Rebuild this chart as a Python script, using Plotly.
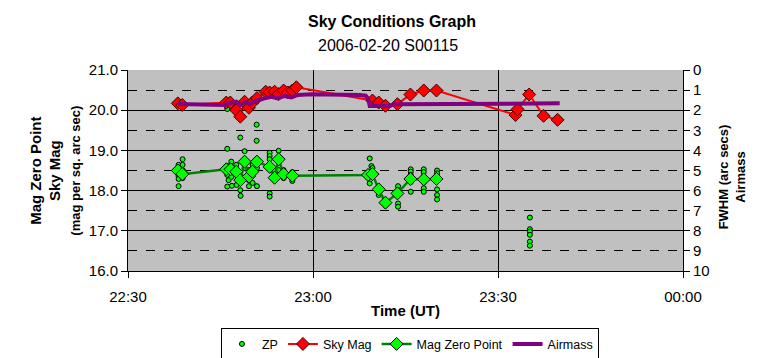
import pandas as pd
import plotly.graph_objects as go

BASE = pd.Timestamp("2006-02-20 22:30:00")

# ---- Sky Mag (mag per sq. arc sec) ; times in minutes after 22:30 UT
sky_t = [8.08, 8.80, 15.94, 16.59, 17.56, 18.21, 18.91, 19.61, 20.16, 20.91, 22.32, 22.97,
         23.78, 24.43, 25.24, 25.94, 26.65, 27.30, 39.64, 40.66, 41.75, 43.69, 45.80, 47.96,
         50.02, 62.85, 63.17, 65.05, 67.39, 69.66]
sky_v = [20.17, 20.13, 20.19, 20.19, 20.00, 19.84, 20.21, 20.06, 20.19, 20.30, 20.46, 20.44,
         20.46, 20.40, 20.49, 20.44, 20.49, 20.57, 20.24, 20.19, 20.11, 20.15, 20.39, 20.49,
         20.49, 19.88, 20.02, 20.39, 19.86, 19.76]

# ---- Mag Zero Point (averaged)
mzp_t = [8.08, 8.80, 15.94, 16.64, 17.56, 18.21, 18.91, 19.61, 20.16, 20.91, 22.97, 23.78,
         24.43, 25.24, 26.65, 38.92, 39.64, 40.66, 41.75, 43.69, 45.80, 47.96, 50.02]
mzp_v = [18.50, 18.41, 18.53, 18.53, 18.47, 18.26, 18.72, 18.35, 18.47, 18.72, 18.59, 18.32,
         18.78, 18.41, 18.37, 18.39, 18.41, 18.03, 17.70, 17.93, 18.29, 18.28, 18.29]

# ---- Airmass (right axis)
am_t = [8.08, 12.42, 15.66, 16.75, 17.56, 18.26, 18.91, 19.72, 20.81, 22.16, 23.24, 24.31,
        25.40, 26.49, 27.56, 29.74, 32.71, 37.58, 38.55, 38.92, 39.20, 42.45, 42.98, 53.27, 70.0]
am_v = [1.69, 1.71, 1.74, 1.63, 1.58, 1.74, 1.58, 1.69, 1.53, 1.41, 1.33, 1.41,
        1.29, 1.36, 1.24, 1.21, 1.21, 1.24, 1.28, 1.41, 1.79, 1.79, 1.71, 1.71, 1.66]

# ---- ZP individual measurements
zp_t = [8.20, 8.20, 8.20, 8.20, 8.20, 8.20, 8.85, 8.85, 8.85, 8.85, 8.85, 9.17,
        16.10, 16.10, 16.10, 16.10, 16.10, 16.10, 16.31, 16.75, 16.75, 16.75, 16.75, 16.85,
        17.61, 17.56, 17.56, 18.21, 18.21, 18.21, 18.21, 18.26, 18.91, 18.91, 18.91, 18.91,
        19.61, 19.61, 19.61, 20.21, 20.21, 20.21, 20.86, 20.86, 20.91, 20.91,
        22.97, 22.97, 22.97, 22.97, 22.97, 23.78, 23.78, 24.43, 24.43, 24.43, 25.24, 25.24,
        26.65, 26.65, 26.65,
        39.20, 39.47, 39.64, 39.20, 39.20, 40.66, 40.66, 41.75, 43.79, 43.79, 43.79, 43.79,
        45.85, 45.85, 45.85, 45.85, 45.85, 47.96, 47.96, 47.96, 47.96, 47.96, 47.96,
        50.12, 50.12, 50.12, 50.12, 50.12, 50.12, 50.12,
        65.17, 65.17, 65.17, 65.17, 65.17, 65.17]
zp_v = [18.64, 18.56, 18.46, 18.36, 18.29, 18.11, 18.78, 18.64, 18.51, 18.39, 18.31, 18.46,
        20.03, 19.04, 18.61, 18.51, 18.39, 18.10, 18.26, 18.72, 18.56, 18.46, 18.34, 18.12,
        18.14, 18.64, 18.39, 19.32, 18.39, 18.21, 18.01, 17.87, 18.98, 18.76, 18.56, 18.31,
        18.51, 18.26, 18.11, 18.64, 18.39, 18.19, 19.64, 19.24, 18.11, 18.56,
        18.94, 18.86, 18.78, 17.93, 17.85, 18.51, 18.26, 18.99, 18.69, 18.51, 18.51, 18.31,
        18.46, 18.37, 18.24,
        18.80, 18.61, 18.56, 18.46, 18.18, 17.99, 17.89, 17.64, 18.11, 18.01, 17.68, 17.60,
        18.53, 18.47, 18.39, 18.21, 17.97, 18.53, 18.46, 18.36, 18.21, 18.06, 17.97,
        18.50, 18.43, 18.36, 18.24, 18.03, 17.89, 17.78,
        17.33, 17.04, 16.98, 16.90, 16.73, 16.63]

left_ticks = [16, 17, 18, 19, 20, 21]
right_ticks = list(range(0, 11))


def to_time(mins):
    return [BASE + pd.Timedelta(minutes=m) for m in mins]


FONT = "Liberation Sans, Arial, sans-serif"

fig = go.Figure()
fig.add_trace(go.Scatter(
    x=to_time(zp_t), y=zp_v, name="ZP", mode="markers",
    marker=dict(symbol="circle", size=5, color="#00FF00", line=dict(color="black", width=1))))
fig.add_trace(go.Scatter(
    x=to_time(sky_t), y=sky_v, name="Sky Mag", mode="lines+markers",
    line=dict(color="#FF0000", width=2),
    marker=dict(symbol="diamond", size=10, color="#FF0000", line=dict(color="#400000", width=1))))
fig.add_trace(go.Scatter(
    x=to_time(mzp_t), y=mzp_v, name="Mag Zero Point", mode="lines+markers",
    line=dict(color="#008000", width=2.5),
    marker=dict(symbol="diamond", size=10, color="#00FF00", line=dict(color="black", width=1))))
fig.add_trace(go.Scatter(
    x=to_time(am_t), y=am_v, name="Airmass", mode="lines", yaxis="y2",
    line=dict(color="#800080", width=4, shape="linear")))

fig.update_layout(
    width=764, height=358,
    margin=dict(l=128, r=81, t=70, b=87, autoexpand=False),
    paper_bgcolor="white", plot_bgcolor="#C0C0C0",
    font=dict(family=FONT, size=15, color="black"),
    showlegend=True,
    legend=dict(orientation="h", x=0.508, xanchor="center", y=-0.285, yanchor="top",
                bordercolor="black", borderwidth=1, bgcolor="white",
                font=dict(size=12.5), itemwidth=30, tracegroupgap=0),
    xaxis=dict(
        type="date", automargin=False,
        range=[BASE, BASE + pd.Timedelta(minutes=90)],
        dtick=30 * 60 * 1000, tick0=BASE, tickformat="%H:%M",
        showgrid=True, gridcolor="black", gridwidth=1,
        showline=True, linecolor="black", linewidth=1,
        ticks="outside", ticklen=6, tickcolor="black",
        ticklabelstandoff=6, zeroline=False),
    yaxis=dict(
        automargin=False,
        range=[16, 21], tickvals=left_ticks, tickformat=".1f",
        showgrid=True, gridcolor="black", gridwidth=1,
        minor=dict(dtick=0.5, tick0=16, showgrid=True, gridcolor="black",
                   griddash="dash", gridwidth=1),
        showline=True, linecolor="black", linewidth=1,
        ticks="outside", ticklen=6, tickcolor="black", zeroline=False),
    yaxis2=dict(
        automargin=False,
        overlaying="y", side="right", range=[10, 0], tickvals=right_ticks,
        showgrid=False, showline=True, linecolor="black", linewidth=1,
        ticks="outside", ticklen=6, tickcolor="black", zeroline=False),
    annotations=[
        dict(text="<b>Sky Conditions Graph</b>", xref="paper", yref="paper",
             x=0.476, y=1.239, xanchor="center", yanchor="middle",
             showarrow=False, font=dict(size=16)),
        dict(text="2006-02-20 S00115", xref="paper", yref="paper",
             x=0.468, y=1.124, xanchor="center", yanchor="middle",
             showarrow=False, font=dict(size=16)),
        dict(text="<b>Time (UT)</b>", xref="paper", yref="paper",
             x=0.5, y=-0.199, xanchor="center", yanchor="middle",
             showarrow=False, font=dict(size=15)),
        dict(text="<b>Mag Zero Point<br>Sky Mag<br><span style='font-size:13px'>(mag per sq. arc sec)</span></b>",
             xref="paper", yref="paper", x=-0.133, y=0.5, xanchor="center", yanchor="middle",
             textangle=-90, showarrow=False, font=dict(size=15)),
        dict(text="<b>FWHM (arc secs)<br>Airmass</b>", xref="paper", yref="paper",
             x=1.088, y=0.47, xanchor="center", yanchor="middle",
             textangle=-90, showarrow=False, font=dict(size=13)),
    ],
)

fig.write_html("out.html", config={"displayModeBar": False},
               post_script="document.body.style.margin='0';document.body.style.overflow='hidden';")
